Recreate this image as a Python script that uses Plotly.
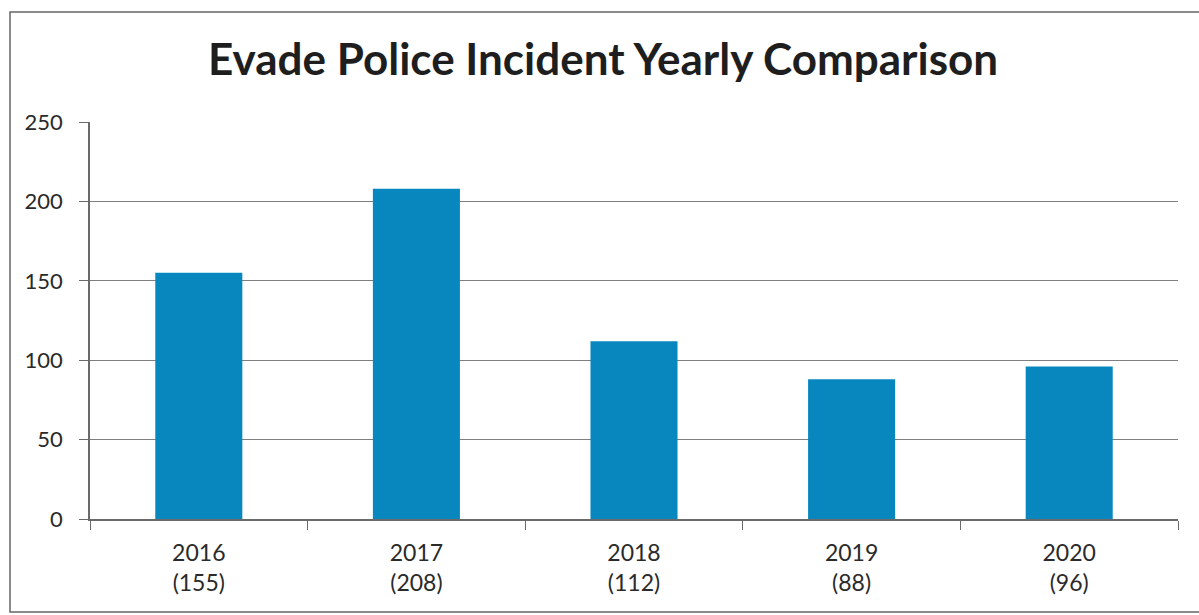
import plotly.graph_objects as go

years = ["2016", "2017", "2018", "2019", "2020"]
counts = [155, 208, 112, 88, 96]
labels = [f"{y}<br>({c})" for y, c in zip(years, counts)]

bar_color = "#0787be"
text_color = "#2a2a2a"

fig = go.Figure(go.Bar(x=labels, y=counts, marker=dict(color=bar_color, line=dict(width=0)), width=0.4))

fig.update_layout(
    width=1199, height=615,
    margin=dict(l=90, r=21, t=122, b=96),
    paper_bgcolor="white", plot_bgcolor="white",
    showlegend=False,
    title=dict(text="<b>Evade Police Incident Yearly Comparison</b>", x=0.503, xanchor="center",
               y=1 - 60 / 615, yanchor="middle",
               font=dict(family="Lato", size=44, color="#1e1e1e")),
    font=dict(family="Lato", color=text_color),
    shapes=[dict(type="rect", xref="paper", yref="paper", x0=-80/1088, x1=1.03,
                 y0=-93/397, y1=1 + 110/397, line=dict(color="#666666", width=1.5))],
)
fig.update_yaxes(range=[0, 250], dtick=50, showgrid=True, gridcolor="#7f7f7f", gridwidth=1,
                 showline=True, linecolor="#6a6a6a", linewidth=1.5, ticks="outside", ticklen=9,
                 tickcolor="#6a6a6a", tickfont=dict(family="Lato", size=22, color=text_color),
                 ticklabelstandoff=12, zeroline=False)
fig.update_xaxes(showline=True, linecolor="#6a6a6a", linewidth=1.5, ticks="outside", ticklen=9,
                 tickson="boundaries", tickcolor="#6a6a6a",
                 tickfont=dict(family="Lato", size=23, color=text_color), ticklabelstandoff=13)

fig.write_html("out.html")
